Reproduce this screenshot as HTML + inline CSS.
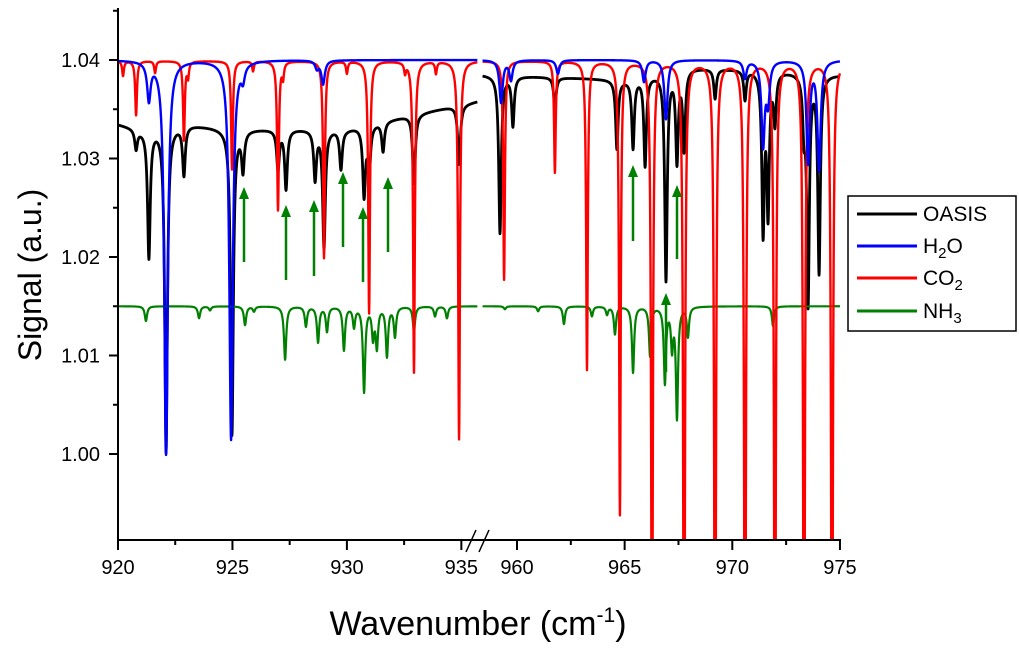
<!DOCTYPE html>
<html><head><meta charset="utf-8">
<style>
html,body{margin:0;padding:0;background:#fff;overflow:hidden;width:1019px;height:651px;}
svg{display:block;font-family:"Liberation Sans",Arial,sans-serif;}
</style></head>
<body>
<svg id="chart" width="1019" height="651" viewBox="0 0 1019 651" xmlns="http://www.w3.org/2000/svg">
<defs>
<clipPath id="clipL"><rect x="118" y="8" width="360" height="532"/></clipPath>
<clipPath id="clipR"><rect x="482" y="8" width="360" height="532"/></clipPath>
</defs>
<g id="series"></g>
<g id="arrows"></g>
<g id="axes"></g>
<text x="0" y="0" transform="translate(41,275) rotate(-90)" text-anchor="middle" font-size="32">Signal (a.u.)</text>
<text x="478" y="635" text-anchor="middle" font-size="34">Wavenumber (cm<tspan dy="-13" font-size="21">-1</tspan><tspan dy="13">)</tspan></text>
<g>
<rect x="848" y="196" width="168" height="135" fill="#fff" stroke="#000" stroke-width="1.5"/>
<line x1="857" y1="214" x2="917" y2="214" stroke="#000" stroke-width="3"/>
<text x="923" y="221" font-size="21">OASIS</text>
<line x1="857" y1="246" x2="917" y2="246" stroke="#0000ff" stroke-width="3"/>
<text x="923" y="253" font-size="21">H<tspan font-size="15" dy="5">2</tspan><tspan dy="-5">O</tspan></text>
<line x1="857" y1="278" x2="917" y2="278" stroke="#ff0000" stroke-width="3"/>
<text x="923" y="285" font-size="21">CO<tspan font-size="15" dy="5">2</tspan></text>
<line x1="857" y1="311" x2="917" y2="311" stroke="#008000" stroke-width="3"/>
<text x="923" y="318" font-size="21">NH<tspan font-size="15" dy="5">3</tspan></text>
</g>
</svg>
<script>
// ---- data: line centers (cm-1) and depths (a.u.) ----
const h2oCenters = [921.35,922.10,924.94,925.46,928.69,928.96,959.26,959.72,961.90,965.90,966.92,970.59,971.43,971.66,973.52,974.03];
const h2oDepths  = [0.0038,0.040,0.0385,0.0015,0.0008,0.0024,0.0043,0.002,0.0014,0.0022,0.006,0.0018,0.0085,0.004,0.0103,0.011];
const co2Centers = [920.22,920.79,921.62,922.88,923.06,924.98,925.90,926.99,927.21,929.0,930.0,930.97,932.54,932.93,933.89,934.90,959.40,961.76,963.25,964.78,966.27,967.76,969.20,970.59,971.98,973.33,974.63];
const co2Depths  = [0.0015,0.0055,0.0012,0.008,0.0015,0.011,0.001,0.0151,0.0015,0.020,0.0012,0.0256,0.001,0.0316,0.0012,0.0384,0.0222,0.0113,0.0313,0.046,0.07,0.08,0.08,0.08,0.08,0.08,0.08];
const nh3Centers = [921.22,923.54,924.02,925.55,925.94,927.30,928.21,928.74,929.13,929.87,930.31,930.75,931.14,931.31,931.75,932.10,932.93,933.85,934.37,959.44,960.98,962.18,963.48,964.18,964.55,965.39,966.18,966.87,967.20,967.43,967.94,971.89];
const nh3Depths  = [0.0015,0.0012,0.0004,0.0019,0.0005,0.0054,0.002,0.0036,0.0025,0.0044,0.002,0.0086,0.003,0.004,0.005,0.003,0.0025,0.001,0.0012,0.0003,0.0005,0.0018,0.001,0.0008,0.0028,0.0067,0.005,0.0077,0.004,0.0112,0.003,0.002];
const oasisCenters = [920.79,921.35,922.10,922.88,924.98,925.46,926.99,927.34,928.61,929.0,929.74,930.75,930.97,931.58,932.93,934.90,959.21,959.81,961.76,964.64,965.39,965.95,966.92,967.43,967.76,969.2,970.59,971.43,971.66,971.98,973.33,973.52,974.03];
const oasisDepths  = [0.002,0.013,0.033,0.005,0.031,0.004,0.004,0.006,0.005,0.012,0.004,0.007,0.005,0.003,0.007,0.006,0.016,0.005,0.003,0.007,0.007,0.009,0.021,0.009,0.008,0.003,0.003,0.016,0.014,0.005,0.005,0.023,0.02];
const oasisBaseW = [920,921,923,925,930,933,935.7,958.4,965,968,972,975];
const oasisBaseV = [1.0335,1.033,1.0335,1.033,1.033,1.0345,1.0358,1.0385,1.038,1.0392,1.039,1.0385];
const yTicks = [1.00,1.01,1.02,1.03,1.04];
const xTicksL = [920,925,930,935];
const xTicksR = [960,965,970,975];

// ---- scales ----
const segL = {x0:118, k:22.89};
const segR = {xr:517, k:21.53};
function xL(w){return segL.x0+(w-920)*segL.k;}
function xR(w){return segR.xr+(w-960)*segR.k;}
function yS(v){return 60+(1.04-v)*9850;}

function prof(w,cs,ds,base,g){
  let s=base;
  for(let i=0;i<cs.length;i++){const d=w-cs[i];s-=ds[i]*g*g/(d*d+g*g);}
  return s;
}
function baseO(w){
  for(let i=0;i<oasisBaseW.length-1;i++){
    if(w>=oasisBaseW[i]&&w<=oasisBaseW[i+1]){const t=(w-oasisBaseW[i])/(oasisBaseW[i+1]-oasisBaseW[i]);return oasisBaseV[i]+t*(oasisBaseV[i+1]-oasisBaseV[i]);}
  }
  return w<940?oasisBaseV[0]:oasisBaseV[oasisBaseV.length-1];
}
const NS="http://www.w3.org/2000/svg";
const sg=document.getElementById('series');
function path(fn,color,name,wid){
  [[920,935.7,xL,'clipL'],[958.4,975,xR,'clipR']].forEach(([a,b,xf,cl])=>{
    let d='';
    for(let w=a;w<=b+1e-9;w+=0.01){d+=(d?'L':'M')+xf(w).toFixed(2)+','+yS(fn(w)).toFixed(2);}
    const p=document.createElementNS(NS,'path');
    p.setAttribute('d',d);p.setAttribute('fill','none');p.setAttribute('stroke',color);
    p.setAttribute('stroke-width',wid);p.setAttribute('stroke-linejoin','round');
    p.setAttribute('clip-path','url(#'+cl+')');
    
    
    sg.appendChild(p);
  });
}
path(w=>prof(w,oasisCenters,oasisDepths,baseO(w),0.07),'#000','oasis',2.8);
path(w=>prof(w,nh3Centers,nh3Depths,1.015,0.06),'#008000',"nh3",2.2);
path(w=>prof(w,co2Centers,co2Depths,1.0399,0.045),'#ff0000','co2',2.4);
path(w=>prof(w,h2oCenters,h2oDepths,1.0400,0.09),'#0000ff','h2o',2.4);

// arrows (annotations)
const ag=document.getElementById('arrows');
const arrowX=[244,286,314,343,363,388,633,677,666];
const arrowTip=[187,205,200,172,207,177,165,185,293];
const arrowTail=[262,280,276,247,282,252,241,259,372];
for(let i=0;i<arrowX.length;i++){
  const g=document.createElementNS(NS,'g');
  
  
  const x=arrowX[i],t=arrowTip[i],b=arrowTail[i];
  g.innerHTML='<line x1="'+x+'" y1="'+(t+8)+'" x2="'+x+'" y2="'+b+'" stroke="#008000" stroke-width="2.5"/><polygon points="'+x+','+t+' '+(x-5)+','+(t+12)+' '+(x+5)+','+(t+12)+'" fill="#008000"/>';
  ag.appendChild(g);
}

// axes
const ax=document.getElementById('axes');
let h='';
h+='<line x1="118" y1="8" x2="118" y2="541" stroke="#000" stroke-width="2"/>';
h+='<line x1="117" y1="540" x2="841" y2="540" stroke="#000" stroke-width="2"/>';
yTicks.forEach(v=>{const y=yS(v);h+='<line x1="109" y1="'+y+'" x2="118" y2="'+y+'" stroke="#000" stroke-width="2"/><text x="100" y="'+(y+7)+'" text-anchor="end" font-size="20">'+v.toFixed(2)+'</text>';});
for(let i=0;i<yTicks.length;i++){const y=yS(yTicks[i]+0.005);if(y>8)h+='<line x1="113" y1="'+y+'" x2="118" y2="'+y+'" stroke="#000" stroke-width="2"/>';}
xTicksL.forEach(w=>{const x=xL(w);h+='<line x1="'+x+'" y1="540" x2="'+x+'" y2="550" stroke="#000" stroke-width="2"/><text x="'+x+'" y="574" text-anchor="middle" font-size="20">'+w+'</text>';if(w<935){const m=xL(w+2.5);h+='<line x1="'+m+'" y1="540" x2="'+m+'" y2="545" stroke="#000" stroke-width="2"/>';}});
xTicksR.forEach(w=>{const x=xR(w);h+='<line x1="'+x+'" y1="540" x2="'+x+'" y2="550" stroke="#000" stroke-width="2"/><text x="'+x+'" y="574" text-anchor="middle" font-size="20">'+w+'</text>';if(w<975){const m=xR(w+2.5);h+='<line x1="'+m+'" y1="540" x2="'+m+'" y2="545" stroke="#000" stroke-width="2"/>';}});
h+='<rect x="471" y="529" width="13" height="8" fill="#fff"/>';
h+='<line x1="466" y1="552" x2="476" y2="530" stroke="#000" stroke-width="1.5"/><line x1="479" y1="552" x2="489" y2="530" stroke="#000" stroke-width="1.5"/>';
ax.innerHTML=h;
</script>
</body></html>
